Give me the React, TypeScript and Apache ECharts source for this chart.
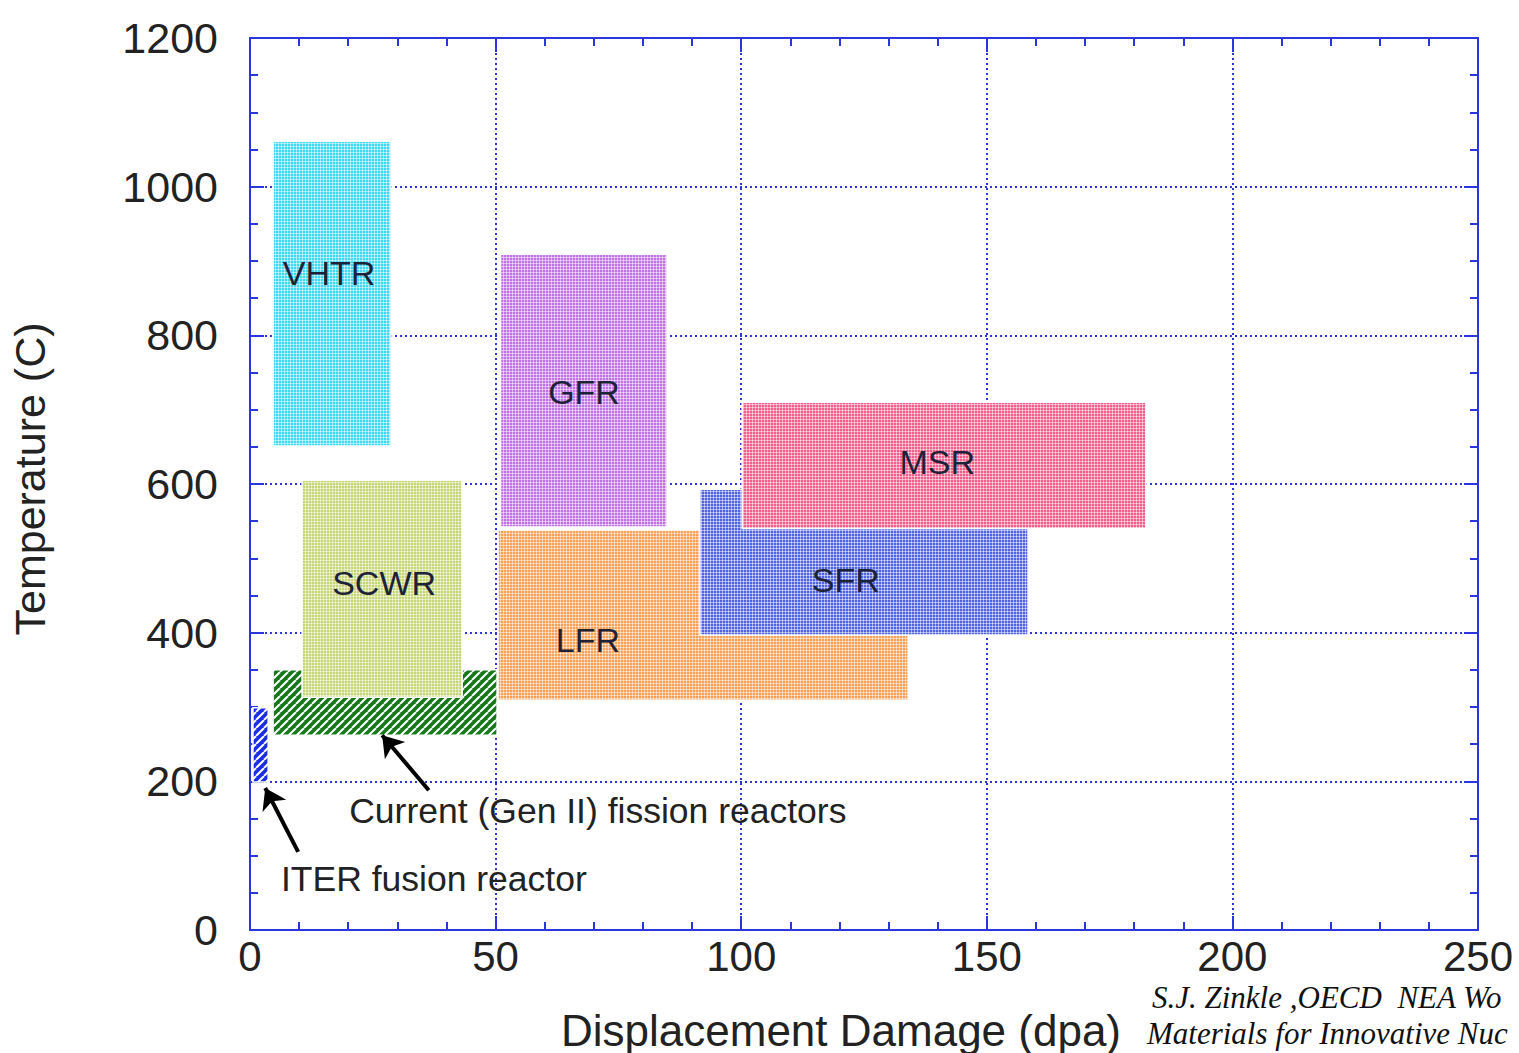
import React, { useEffect, useRef } from 'react';
import * as echarts from 'echarts';

// ---- data ----
const regionNames = ['VHTR', 'GFR', 'LFR', 'SFR', 'MSR', 'Current (Gen II)', 'SCWR', 'ITER'];
const dpaMin = [4.7, 51, 50.5, 91.6, 100.2, 4.7, 10.6, 0.6];
const dpaMax = [28.7, 84.9, 134, 158.4, 182.4, 50.3, 43.2, 3.7];
const tempMin = [651, 542, 309, 397, 540, 262, 313, 199];
const tempMax = [1061, 909, 538, 593, 710, 350, 605, 299];
const regionColors = ['#3fd8f2', '#c071e6', '#f8a055', '#5063e2', '#f45c8a', '#17781b', '#c6d676', '#1a2de6'];
const regionHatched = [false, false, false, false, false, true, false, true];

const labelNames = ['VHTR', 'GFR', 'LFR', 'SFR', 'MSR', 'SCWR'];
const labelDpa = [16.1, 68, 68.8, 121.3, 139.9, 27.3];
const labelTemp = [884, 724, 390, 471, 630, 467];

const noteTexts = ['Current (Gen II) fission reactors', 'ITER fusion reactor'];
const noteDpa = [20.2, 6.3];
const noteTemp = [160, 68.6];

const arrowFrom = [[36.4, 188], [9.8, 105]];
const arrowTo = [[26.9, 262], [3.1, 191]];

const xMin = 0, xMax = 250, xStep = 50;
const yMin = 0, yMax = 1200, yStep = 200;

const citation = ['S.J. Zinkle ,OECD  NEA Wo', 'Materials for Innovative Nuc'];

const FONT = '"Liberation Sans", Arial, Helvetica, sans-serif';
const SERIF = '"Liberation Serif", "Times New Roman", serif';
const BLUE = '#2b36dc';

function dotPattern(color: string) {
  const c = document.createElement('canvas');
  c.width = 3; c.height = 3;
  const g = c.getContext('2d')!;
  g.fillStyle = '#ffffff'; g.fillRect(0, 0, 3, 3);
  g.fillStyle = color; g.fillRect(0, 0, 2, 2);
  g.globalAlpha = 0.5; g.fillRect(2, 0, 1, 2); g.fillRect(0, 2, 2, 1);
  g.globalAlpha = 0.25; g.fillRect(2, 2, 1, 1);
  return { image: c.toDataURL(), repeat: 'repeat', imageWidth: 3, imageHeight: 3 };
}

function hatchPattern(color: string) {
  const s = 8;
  const c = document.createElement('canvas');
  c.width = s; c.height = s;
  const g = c.getContext('2d')!;
  g.fillStyle = color; g.fillRect(0, 0, s, s);
  g.strokeStyle = '#ffffff'; g.lineWidth = 2;
  for (const o of [-s, 0, s]) {
    g.beginPath(); g.moveTo(o, s); g.lineTo(o + s, 0); g.stroke();
  }
  return { image: c.toDataURL(), repeat: 'repeat', imageWidth: s, imageHeight: s };
}

export default function App() {
  const ref = useRef<HTMLDivElement>(null);
  useEffect(() => {
    if (!ref.current) return;
    const chart = echarts.init(ref.current, null, { renderer: 'svg' });
    const fills = regionColors.map((c, i) => (regionHatched[i] ? hatchPattern(c) : dotPattern(c)));
    const regionData = regionNames.map((n, i) => ({ name: n, value: [dpaMin[i], dpaMax[i], tempMin[i], tempMax[i]] }));
    const labelData = labelNames.map((n, i) => ({ name: n, value: [labelDpa[i], labelTemp[i]] }));
    const noteData = noteTexts.map((n, i) => ({ name: n, value: [noteDpa[i], noteTemp[i]] }));

    const axisCommon = {
      type: 'value' as const,
      axisLine: { show: true, onZero: false, lineStyle: { color: BLUE, width: 2 } },
      axisTick: { show: true, inside: true, length: 14, lineStyle: { color: BLUE, width: 2 } },
      minorTick: { show: true, length: 8, lineStyle: { color: BLUE, width: 2 } },
    };
    const plain = (v: number) => String(v);

    chart.setOption({
      animation: false,
      backgroundColor: '#ffffff',
      grid: { left: 250, right: 41, top: 38, bottom: 123, show: false },
      xAxis: [
        {
          ...axisCommon, min: xMin, max: xMax, interval: xStep, position: 'bottom',
          minorTick: { ...axisCommon.minorTick, splitNumber: 5 },
          axisLabel: { fontSize: 42, lineHeight: 36, color: '#222', fontFamily: FONT, margin: 8, formatter: plain },
          splitLine: { show: true, lineStyle: { color: BLUE, width: 2, type: [2, 3] } },
        },
        {
          ...axisCommon, min: xMin, max: xMax, interval: xStep, position: 'top',
          minorTick: { ...axisCommon.minorTick, splitNumber: 5 },
          axisLabel: { show: false }, splitLine: { show: false },
        },
      ],
      yAxis: [
        {
          ...axisCommon, min: yMin, max: yMax, interval: yStep, position: 'left',
          minorTick: { ...axisCommon.minorTick, splitNumber: 4 },
          axisLabel: { fontSize: 43, color: '#222', fontFamily: FONT, margin: 32, padding: [0, 0, 14, 0], formatter: plain },
          splitLine: { show: true, lineStyle: { color: BLUE, width: 2, type: [2, 3] } },
        },
        {
          ...axisCommon, min: yMin, max: yMax, interval: yStep, position: 'right',
          minorTick: { ...axisCommon.minorTick, splitNumber: 4 },
          axisLabel: { show: false }, splitLine: { show: false },
        },
      ],
      series: [
        {
          type: 'custom',
          coordinateSystem: 'cartesian2d',
          xAxisIndex: 0, yAxisIndex: 0,
          encode: { x: [0, 1], y: [2, 3] },
          data: regionData,
          renderItem: (params: any, api: any) => {
            const i = params.dataIndex;
            const p0 = api.coord([api.value(0), api.value(3)]);
            const p1 = api.coord([api.value(1), api.value(2)]);
            return {
              type: 'rect',
              shape: { x: p0[0], y: p0[1], width: p1[0] - p0[0], height: p1[1] - p0[1] },
              style: { fill: fills[i], stroke: '#ffffff', lineWidth: 1.5 },
            };
          },
          z: 2,
        },
        {
          type: 'custom',
          coordinateSystem: 'cartesian2d',
          encode: { x: 0, y: 1 },
          data: labelData,
          renderItem: (params: any, api: any) => {
            const p = api.coord([api.value(0), api.value(1)]);
            return {
              type: 'text', x: p[0], y: p[1],
              style: { text: labelNames[params.dataIndex], fill: '#1e2238', font: `34px ${FONT}`, align: 'center', verticalAlign: 'middle' },
            };
          },
          z: 5,
        },
        {
          type: 'custom',
          coordinateSystem: 'cartesian2d',
          encode: { x: 0, y: 1 },
          data: noteData,
          renderItem: (params: any, api: any) => {
            const p = api.coord([api.value(0), api.value(1)]);
            return {
              type: 'text', x: p[0], y: p[1],
              style: { text: noteTexts[params.dataIndex], fill: '#222222', font: `35.5px ${FONT}`, align: 'left', verticalAlign: 'middle' },
            };
          },
          z: 5,
        },
        {
          type: 'lines',
          coordinateSystem: 'cartesian2d',
          symbol: ['none', 'arrow'],
          symbolSize: 20,
          lineStyle: { color: '#000', width: 4, opacity: 1 },
          data: arrowFrom.map((f, i) => ({ coords: [f, arrowTo[i]] })),
          z: 6,
        },
      ],
      graphic: [
        {
          type: 'text', x: 841, y: 1030,
          style: { text: 'Displacement Damage (dpa)', fill: '#222', font: `44px ${FONT}`, align: 'center', verticalAlign: 'middle' },
        },
        {
          type: 'text', x: 30, y: 479, rotation: Math.PI / 2,
          style: { text: 'Temperature (C)', fill: '#222', font: `43px ${FONT}`, align: 'center', verticalAlign: 'middle' },
        },
        {
          type: 'text', x: 1152, y: 997,
          style: { text: citation[0], fill: '#111', font: `italic 31px ${SERIF}`, align: 'left', verticalAlign: 'middle' },
        },
        {
          type: 'text', x: 1147, y: 1033,
          style: { text: citation[1], fill: '#111', font: `italic 31px ${SERIF}`, align: 'left', verticalAlign: 'middle' },
        },
      ],
    });
    return () => chart.dispose();
  }, []);
  return <div ref={ref} style={{ position: 'fixed', left: 0, top: 0, width: 1519, height: 1053 }} />;
}
